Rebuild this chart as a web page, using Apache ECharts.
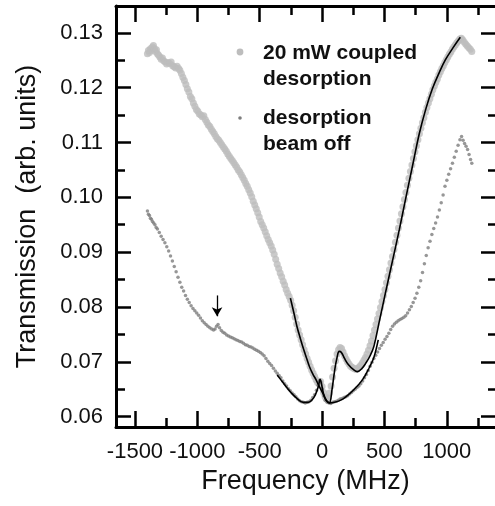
<!DOCTYPE html>
<html>
<head>
<meta charset="utf-8">
<script src="https://cdn.jsdelivr.net/npm/echarts@6/dist/echarts.min.js"></script>
<style>
  html, body { margin: 0; padding: 0; background: #fff; }
  #chart { width: 495px; height: 506px; }
</style>
</head>
<body>
<div id="chart"></div>
<script>
// tick positions
const xMajor = [-1500, -1000, -500, 0, 500, 1000];
const xMinor = [-1250, -750, -250, 250, 750, 1250];
const yMajor = [0.06, 0.07, 0.08, 0.09, 0.10, 0.11, 0.12, 0.13];
const yMinor = [0.065, 0.075, 0.085, 0.095, 0.105, 0.115, 0.125];

// legend entries
const legendLabels = ['20 mW coupled\ndesorption', 'desorption\nbeam off'];

// 20 mW coupled desorption (light gray dots)
const coupled = [
  [-1400, 0.1262], [-1392, 0.1268], [-1384, 0.1264], [-1376, 0.1271], [-1368, 0.1268], [-1360, 0.1274],
  [-1352, 0.1277], [-1344, 0.1271], [-1336, 0.1266], [-1328, 0.1269], [-1320, 0.1262], [-1310, 0.1259],
  [-1300, 0.1256], [-1290, 0.1252], [-1280, 0.1254], [-1270, 0.1249], [-1258, 0.1247], [-1246, 0.1243],
  [-1234, 0.1246], [-1222, 0.1244], [-1210, 0.1247], [-1198, 0.1240], [-1186, 0.1238], [-1174, 0.1236],
  [-1162, 0.1239], [-1150, 0.1235], [-1140, 0.1232], [-1128, 0.1226], [-1116, 0.1219], [-1104, 0.1213],
  [-1092, 0.1206], [-1080, 0.1198], [-1068, 0.1192], [-1056, 0.1184], [-1044, 0.1180], [-1032, 0.1172],
  [-1020, 0.1166], [-1008, 0.1160], [-996, 0.1157], [-984, 0.1152], [-972, 0.1150], [-960, 0.1147],
  [-948, 0.1149], [-936, 0.1142], [-924, 0.1137], [-912, 0.1132], [-900, 0.1129], [-888, 0.1124],
  [-876, 0.1120], [-864, 0.1116], [-852, 0.1111], [-840, 0.1107], [-828, 0.1104], [-816, 0.1100],
  [-804, 0.1096], [-792, 0.1092], [-780, 0.1088], [-768, 0.1084], [-756, 0.1079], [-744, 0.1075],
  [-732, 0.1071], [-720, 0.1067], [-708, 0.1063], [-696, 0.1059], [-684, 0.1055], [-672, 0.1050],
  [-660, 0.1046], [-648, 0.1041], [-636, 0.1036], [-624, 0.1031], [-612, 0.1025], [-600, 0.1020],
  [-588, 0.1014], [-576, 0.1008], [-564, 0.1001], [-552, 0.0993], [-540, 0.0986], [-528, 0.0979],
  [-516, 0.0972], [-504, 0.0964], [-492, 0.0956], [-480, 0.0950], [-468, 0.0944], [-456, 0.0937],
  [-444, 0.0930], [-432, 0.0923], [-420, 0.0917], [-408, 0.0911], [-396, 0.0904], [-384, 0.0896],
  [-372, 0.0887], [-360, 0.0878], [-348, 0.0870], [-336, 0.0862], [-324, 0.0855], [-312, 0.0847],
  [-300, 0.0840], [-288, 0.0832], [-276, 0.0825], [-264, 0.0819], [-252, 0.0812], [-240, 0.0803],
  [-228, 0.0793], [-216, 0.0781], [-204, 0.0769], [-192, 0.0758], [-180, 0.0749], [-168, 0.0740],
  [-156, 0.0731], [-144, 0.0722], [-132, 0.0714], [-120, 0.0706], [-108, 0.0699], [-96, 0.0692],
  [-84, 0.0685], [-72, 0.0679], [-60, 0.0673], [-48, 0.0667], [-36, 0.0662], [-24, 0.0660],
  [-12, 0.0664], [0, 0.0655], [12, 0.0644], [24, 0.0636], [36, 0.0632], [48, 0.0634],
  [60, 0.0643], [72, 0.0656], [84, 0.0672], [96, 0.0688], [108, 0.0702], [120, 0.0714],
  [132, 0.0722], [144, 0.0726], [156, 0.0724], [168, 0.0718], [180, 0.0711], [192, 0.0705],
  [204, 0.0700], [216, 0.0696], [228, 0.0692], [240, 0.0690], [252, 0.0688], [264, 0.0687],
  [276, 0.0686], [288, 0.0688], [300, 0.0691], [312, 0.0694], [324, 0.0698], [336, 0.0703],
  [348, 0.0708], [360, 0.0714], [372, 0.0721], [384, 0.0729], [396, 0.0738], [408, 0.0748],
  [420, 0.0758], [432, 0.0768], [444, 0.0778], [456, 0.0788], [468, 0.0799], [480, 0.0810],
  [492, 0.0821], [504, 0.0832], [516, 0.0844], [528, 0.0856], [540, 0.0868], [552, 0.0880],
  [564, 0.0892], [576, 0.0905], [588, 0.0918], [600, 0.0931], [612, 0.0944], [624, 0.0957],
  [636, 0.0970], [648, 0.0983], [660, 0.0996], [672, 0.1009], [684, 0.1022], [696, 0.1035],
  [708, 0.1047], [720, 0.1059], [732, 0.1071], [744, 0.1083], [756, 0.1094], [768, 0.1105],
  [780, 0.1116], [792, 0.1126], [804, 0.1136], [816, 0.1145], [828, 0.1155], [840, 0.1164],
  [852, 0.1172], [864, 0.1180], [876, 0.1188], [888, 0.1196], [900, 0.1203], [912, 0.1210],
  [924, 0.1216], [936, 0.1223], [948, 0.1229], [960, 0.1235], [972, 0.1240], [984, 0.1246],
  [996, 0.1251], [1008, 0.1256], [1020, 0.1261], [1032, 0.1265], [1044, 0.1270], [1056, 0.1274],
  [1068, 0.1278], [1080, 0.1282], [1092, 0.1285], [1104, 0.1289], [1116, 0.1290], [1128, 0.1287],
  [1140, 0.1283], [1152, 0.1279], [1164, 0.1276], [1176, 0.1273], [1188, 0.1270], [1200, 0.1266]
];

// desorption beam off (dark gray dots)
const beamOff = [
  [-1400, 0.0975], [-1392, 0.0969], [-1384, 0.0967], [-1376, 0.0962], [-1368, 0.0960], [-1360, 0.0956],
  [-1350, 0.0953], [-1340, 0.0950], [-1330, 0.0945], [-1320, 0.0942], [-1305, 0.0936], [-1290, 0.0929],
  [-1275, 0.0923], [-1260, 0.0917], [-1245, 0.0910], [-1230, 0.0902], [-1215, 0.0893], [-1200, 0.0884],
  [-1185, 0.0874], [-1170, 0.0864], [-1155, 0.0854], [-1140, 0.0845], [-1125, 0.0836], [-1110, 0.0829],
  [-1095, 0.0821], [-1080, 0.0814], [-1065, 0.0808], [-1050, 0.0802], [-1035, 0.0797], [-1020, 0.0793],
  [-1005, 0.0789], [-990, 0.0785], [-975, 0.0780], [-960, 0.0775], [-945, 0.0771], [-930, 0.0768],
  [-915, 0.0765], [-900, 0.0762], [-885, 0.0760], [-870, 0.0758], [-858, 0.0760], [-846, 0.0765],
  [-834, 0.0768], [-822, 0.0762], [-808, 0.0757], [-794, 0.0754], [-780, 0.0752], [-765, 0.0749],
  [-750, 0.0747], [-735, 0.0745], [-720, 0.0744], [-705, 0.0742], [-690, 0.0740], [-675, 0.0739],
  [-660, 0.0737], [-645, 0.0736], [-630, 0.0734], [-615, 0.0731], [-600, 0.0730], [-585, 0.0728],
  [-570, 0.0727], [-555, 0.0725], [-540, 0.0723], [-525, 0.0721], [-510, 0.0719], [-495, 0.0717],
  [-480, 0.0714], [-465, 0.0711], [-450, 0.0706], [-435, 0.0701], [-420, 0.0697], [-405, 0.0693],
  [-390, 0.0688], [-375, 0.0683], [-360, 0.0679], [-345, 0.0675], [-330, 0.0671], [-315, 0.0665],
  [-300, 0.0660], [-285, 0.0656], [-270, 0.0651], [-255, 0.0647], [-240, 0.0643], [-225, 0.0640],
  [-210, 0.0636], [-195, 0.0632], [-180, 0.0629], [-165, 0.0627], [-150, 0.0626], [-135, 0.0625],
  [-120, 0.0626], [-105, 0.0627], [-90, 0.0630], [-75, 0.0635], [-60, 0.0640], [-45, 0.0648],
  [-32, 0.0657], [-20, 0.0666], [-10, 0.0663], [0, 0.0651], [12, 0.0638], [25, 0.0630],
  [40, 0.0626], [55, 0.0625], [70, 0.0624], [85, 0.0626], [100, 0.0627], [115, 0.0628],
  [130, 0.0630], [145, 0.0632], [160, 0.0633], [175, 0.0635], [190, 0.0636], [205, 0.0638],
  [220, 0.0641], [235, 0.0644], [250, 0.0647], [265, 0.0650], [280, 0.0653], [295, 0.0656],
  [310, 0.0660], [325, 0.0665], [340, 0.0671], [355, 0.0677], [370, 0.0684], [385, 0.0692],
  [400, 0.0699], [415, 0.0706], [430, 0.0712], [445, 0.0718], [460, 0.0724], [475, 0.0730],
  [490, 0.0735], [505, 0.0741], [520, 0.0746], [535, 0.0752], [550, 0.0759], [565, 0.0765],
  [580, 0.0769], [595, 0.0772], [610, 0.0775], [625, 0.0777], [640, 0.0779], [655, 0.0781],
  [670, 0.0784], [685, 0.0789], [700, 0.0795], [715, 0.0801], [730, 0.0808], [745, 0.0816],
  [760, 0.0825], [775, 0.0836], [790, 0.0848], [805, 0.0863], [820, 0.0879], [835, 0.0894],
  [850, 0.0908], [865, 0.0920], [880, 0.0932], [895, 0.0943], [910, 0.0953], [925, 0.0964],
  [940, 0.0977], [955, 0.0990], [970, 0.1004], [985, 0.1020], [1000, 0.1031], [1015, 0.1042],
  [1030, 0.1052], [1045, 0.1062], [1060, 0.1073], [1075, 0.1084], [1090, 0.1095], [1105, 0.1105],
  [1118, 0.1111], [1130, 0.1104], [1142, 0.1098], [1154, 0.1093], [1166, 0.1087], [1178, 0.1078],
  [1190, 0.1069], [1200, 0.1062]
];

// fit curves (black lines)
const fitCoupled = [
  [-254, 0.0816], [-225, 0.0788], [-201, 0.0764], [-175, 0.0743], [-150, 0.0724], [-125, 0.0707],
  [-101, 0.0691], [-75, 0.0678], [-48, 0.0667], [-25, 0.0656], [0, 0.0645], [20, 0.0636],
  [40, 0.0628], [58, 0.0625], [80, 0.0650], [100, 0.0683], [120, 0.0708], [137, 0.0719],
  [155, 0.0717], [180, 0.0706], [210, 0.0695], [250, 0.0686], [283, 0.0682], [320, 0.0688],
  [349, 0.0697], [385, 0.0711], [415, 0.0728], [460, 0.0775], [513, 0.0831], [570, 0.0890],
  [619, 0.0941], [672, 0.1000], [730, 0.1063], [778, 0.1115], [830, 0.1160], [884, 0.1198],
  [940, 0.1228], [989, 0.1251], [1050, 0.1273], [1108, 0.1292]
];
const fitBeamOff = [
  [-360, 0.0676], [-320, 0.0664], [-290, 0.0655], [-250, 0.0644], [-206, 0.0634], [-150, 0.0626],
  [-110, 0.0626], [-75, 0.0632], [-50, 0.0642], [-30, 0.0655], [-16, 0.0668], [-5, 0.0660],
  [10, 0.0643], [30, 0.0630], [60, 0.0625], [100, 0.0626], [150, 0.0630], [190, 0.0636],
  [250, 0.0648], [323, 0.0667], [380, 0.0690], [415, 0.0708], [450, 0.0740]
];

// arrow marking the small feature
const arrowX = -842;
const arrowY = [0.0821, 0.0783];

const FONT = 'Liberation Sans, Arial, sans-serif';
const xMin = -1652, xMax = 1386;
const yMin = 0.0581, yMax = 0.1349;
const gridW = 380, gridH = 421;

const chart = echarts.init(document.getElementById('chart'));

const tickLine = { color: '#000', width: 2.5 };
const frameLine = { show: true, onZero: false, lineStyle: { color: '#000', width: 3 } };

// labelled axes (no ticks of their own)
const xLabelAxis = {
  type: 'value', position: 'bottom', min: xMin, max: xMax,
  axisLine: frameLine, axisTick: { show: false }, splitLine: { show: false },
  axisLabel: {
    customValues: xMajor, fontSize: 22, fontFamily: FONT, color: '#111', margin: 14,
    formatter: v => String(v)
  },
  name: 'Frequency (MHz)', nameLocation: 'middle', nameGap: 37,
  nameTextStyle: { fontSize: 27, fontFamily: FONT, color: '#111' }
};
const yLabelAxis = {
  type: 'value', position: 'left', min: yMin, max: yMax,
  axisLine: frameLine, axisTick: { show: false }, splitLine: { show: false },
  axisLabel: {
    customValues: yMajor, fontSize: 22, fontFamily: FONT, color: '#111', margin: 13,
    formatter: v => v.toFixed(2)
  },
  name: 'Transmission  (arb. units)', nameLocation: 'middle', nameGap: 75,
  nameTextStyle: { fontSize: 27, fontFamily: FONT, color: '#111' }
};

// tick-only axes: placed on the opposite side with an offset so their
// outward ticks point into the plot
function xTicks(position, ticks, len, offset, showLine) {
  return {
    type: 'value', position: position, offset: offset, min: xMin, max: xMax,
    axisLine: showLine ? frameLine : { show: false, onZero: false },
    axisTick: { show: true, length: len, customValues: ticks, lineStyle: tickLine },
    axisLabel: { show: false }, splitLine: { show: false }
  };
}
function yTicks(position, ticks, len, offset) {
  return {
    type: 'value', position: position, offset: offset, min: yMin, max: yMax,
    axisLine: { show: false, onZero: false },
    axisTick: { show: true, length: len, customValues: ticks, lineStyle: tickLine },
    axisLabel: { show: false }, splitLine: { show: false }
  };
}

const legendText = {
  fontSize: 21, fontWeight: 'bold', fontFamily: FONT, fill: '#111', lineHeight: 26
};

const option = {
  animation: false,
  backgroundColor: '#fff',
  grid: { left: 116, right: -1, top: 6, bottom: 79 },
  graphic: [
    { type: 'circle', shape: { cx: 240, cy: 52, r: 3.4 }, style: { fill: '#bdbdbd' } },
    { type: 'text', left: 263, top: 40, style: Object.assign({ text: legendLabels[0] }, legendText) },
    { type: 'circle', shape: { cx: 240, cy: 118, r: 1.8 }, style: { fill: '#7d7d7d' } },
    { type: 'text', left: 263, top: 105, style: Object.assign({ text: legendLabels[1] }, legendText) }
  ],
  xAxis: [
    xLabelAxis,
    xTicks('top', xMajor, 16, -gridH, false),    // bottom edge, pointing up
    xTicks('top', xMinor, 9, -gridH, false),
    xTicks('bottom', xMajor, 16, -gridH, true),  // top edge, pointing down
    xTicks('bottom', xMinor, 9, -gridH, false)
  ],
  yAxis: [
    yLabelAxis,
    yTicks('right', yMajor, 16, -gridW),   // left edge, pointing right
    yTicks('right', yMinor, 10, -gridW),
    yTicks('left', yMajor, 15, -gridW),    // right edge, pointing left
    yTicks('left', yMinor, 8, -gridW)
  ],
  series: [
    {
      name: legendLabels[0], type: 'scatter', data: coupled,
      symbolSize: 7, itemStyle: { color: '#bdbdbd' }, z: 2
    },
    {
      name: legendLabels[1], type: 'scatter', data: beamOff,
      symbolSize: 3.5, itemStyle: { color: '#7d7d7d' }, z: 3,
      markLine: {
        silent: true, symbol: ['none', 'arrow'], symbolSize: [8, 9],
        label: { show: false },
        lineStyle: { color: '#000', width: 1.3, type: 'solid' },
        data: [[{ coord: [arrowX, arrowY[0]] }, { coord: [arrowX, arrowY[1]] }]]
      }
    },
    {
      name: 'fit coupled', type: 'line', data: fitCoupled, smooth: 0.4, showSymbol: false,
      lineStyle: { color: '#000', width: 1.6 }, z: 4
    },
    {
      name: 'fit beam off', type: 'line', data: fitBeamOff, smooth: 0.4, showSymbol: false,
      lineStyle: { color: '#000', width: 1.6 }, z: 4
    }
  ]
};

chart.setOption(option);
</script>
</body>
</html>
